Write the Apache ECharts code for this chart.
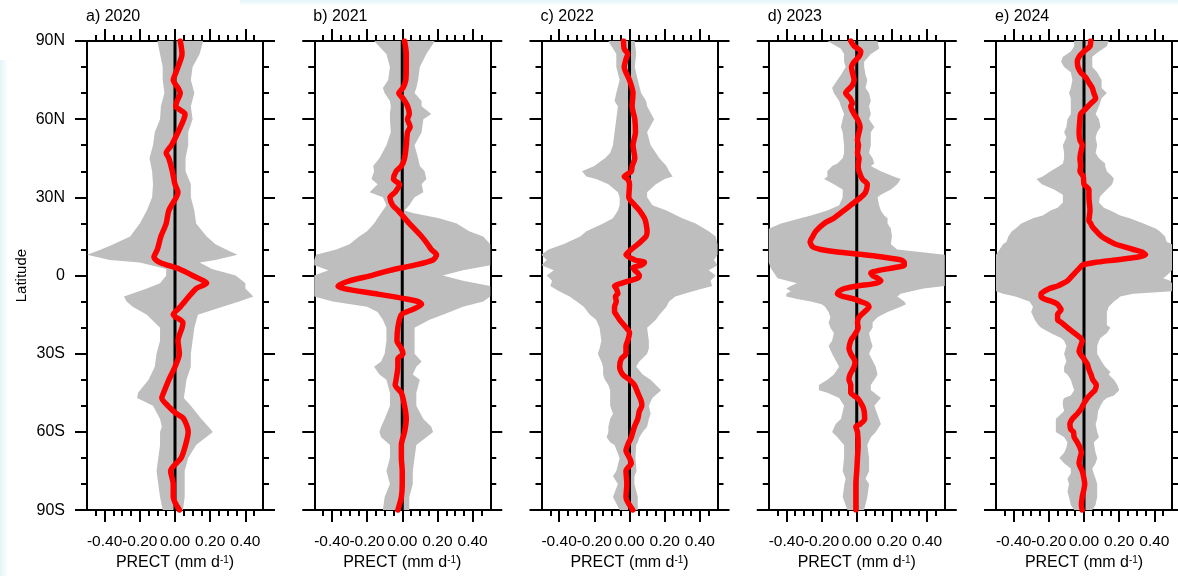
<!DOCTYPE html>
<html>
<head>
<meta charset="utf-8">
<script src="https://cdn.jsdelivr.net/npm/echarts@6/dist/echarts.min.js"></script>
<style>
  html, body { margin: 0; padding: 0; background: #fff; }
  #chart { width: 1178px; height: 576px; }
</style>
</head>
<body>
<div id="chart"></div>
<script>
// panel titles and tick labels
const panelTitles = ['a) 2020', 'b) 2021', 'c) 2022', 'd) 2023', 'e) 2024'];
const latLabels = ['90S', '60S', '30S', '0', '30N', '60N', '90N'];
const xMajorTicks = [-0.4, -0.2, 0, 0.2, 0.4];
const xMinorTicks = [-0.45, -0.4, -0.35, -0.3, -0.25, -0.2, -0.15, -0.1, -0.05, 0,
  0.05, 0.1, 0.15, 0.2, 0.25, 0.3, 0.35, 0.4, 0.45];

// 2020
const redLat2020 = [90,85,80,77,75,72,70,67,65,62,60,55,50,47,45,40,35,32,30,25,20,15,10,7,5,2.5,0,-3,-5,-10,-12,-15,-18,-20,-25,-30,-35,-40,-45,-47,-50,-53,-55,-60,-65,-70,-75,-80,-85,-90];
const red2020 = [0.03,0.04,0.017,0,-0.01,0.017,0.03,0.012,0.004,0.057,0.05,0.017,-0.02,-0.05,-0.035,-0.015,0,0.017,0.007,-0.035,-0.05,-0.08,-0.1,-0.12,-0.085,0.025,0.1,0.18,0.12,0.055,0.03,-0.01,0.045,0.04,0.017,0.025,0,-0.035,-0.065,-0.075,-0.04,0.008,0.05,0.075,0.06,0.035,-0.025,-0.01,-0.01,0.025];
const envLat2020 = [90,85,80,75,70,65,60,55,50,45,40,35,30,25,20,15,12,10,8,6,5,2.5,0,-3,-5,-8,-10,-12,-15,-20,-25,-30,-35,-40,-45,-47,-50,-55,-58,-60,-65,-70,-75,-80,-85,-90];
const lo2020 = [-0.1,-0.085,-0.07,-0.07,-0.06,-0.08,-0.085,-0.115,-0.125,-0.145,-0.13,-0.125,-0.13,-0.16,-0.2,-0.255,-0.35,-0.42,-0.5,-0.37,-0.2,-0.05,-0.05,-0.085,-0.16,-0.29,-0.275,-0.24,-0.16,-0.085,-0.085,-0.105,-0.115,-0.15,-0.21,-0.215,-0.125,-0.085,-0.075,-0.085,-0.085,-0.095,-0.105,-0.095,-0.085,-0.07];
const hi2020 = [0.16,0.14,0.1,0.09,0.11,0.09,0.1,0.075,0.075,0.06,0.06,0.09,0.09,0.11,0.12,0.18,0.23,0.29,0.355,0.23,0.14,0.21,0.345,0.4,0.4,0.445,0.365,0.27,0.13,0.11,0.1,0.09,0.09,0.065,0.055,0.05,0.09,0.15,0.19,0.215,0.12,0.075,0.055,0.055,0.055,0.045];

// 2021
const redLat2021 = [90,85,80,75,72,70,68,65,62,60,57,55,50,45,42,40,37,35,32,30,27,25,20,15,12,10,8,6,4,2,0,-2,-4,-5,-7,-9,-10,-11,-13,-15,-20,-25,-28,-30,-32,-35,-40,-42,-45,-50,-55,-60,-65,-70,-75,-80,-85,-90];
const red2021 = [0.013,0.023,0.023,0.02,0.004,-0.02,0.004,0.03,0.04,0.03,0.045,0.03,0.023,0.013,-0.005,-0.035,-0.05,-0.015,-0.04,-0.07,-0.055,-0.025,0.04,0.11,0.145,0.165,0.195,0.175,0.07,-0.07,-0.175,-0.3,-0.365,-0.33,-0.15,0.023,0.09,0.11,0.06,-0.005,-0.025,-0.03,-0.005,0.004,-0.025,-0.025,-0.035,-0.04,-0.005,0.013,0.023,0.013,-0.005,-0.005,0,0,-0.005,-0.025];
const envLat2021 = [90,85,80,75,72,70,67,65,62,60,55,50,45,42,40,37,35,32,30,27,25,24,22,20,17,15,12,10,8,6,4,2,0,-2,-4,-6,-8,-10,-12,-14,-15,-17,-20,-25,-30,-33,-35,-38,-40,-45,-50,-55,-58,-60,-62,-65,-70,-75,-80,-85,-90];
const lo2021 = [-0.16,-0.09,-0.07,-0.08,-0.11,-0.1,-0.07,-0.065,-0.07,-0.07,-0.065,-0.09,-0.13,-0.165,-0.16,-0.175,-0.14,-0.185,-0.11,-0.09,-0.11,-0.12,-0.14,-0.16,-0.2,-0.245,-0.3,-0.375,-0.49,-0.5,-0.5,-0.42,-0.5,-0.5,-0.5,-0.5,-0.5,-0.395,-0.2,-0.14,-0.13,-0.11,-0.09,-0.09,-0.1,-0.12,-0.16,-0.13,-0.09,-0.07,-0.07,-0.1,-0.12,-0.13,-0.12,-0.07,-0.07,-0.09,-0.07,-0.1,-0.11];
const hi2021 = [0.185,0.137,0.1,0.09,0.08,0.07,0.11,0.11,0.165,0.12,0.11,0.07,0.09,0.1,0.127,0.137,0.11,0.12,0.07,0.04,0.013,0.06,0.21,0.31,0.38,0.46,0.5,0.5,0.5,0.5,0.5,0.345,0.23,0.345,0.5,0.5,0.5,0.46,0.345,0.27,0.23,0.155,0.07,0.07,0.07,0.11,0.08,0.06,0.1,0.08,0.08,0.12,0.165,0.175,0.137,0.08,0.07,0.06,0.06,0.04,0.04];

// 2022
const redLat2022 = [90,87,85,83,80,75,70,65,60,55,50,45,42,40,38,37,35,30,27,25,22,20,17,15,12,10,8,6,5,4,3,2,1,0,-1,-2,-3,-4,-5,-7,-8,-10,-12,-14,-15,-17,-20,-22,-25,-27,-30,-32,-35,-38,-40,-42,-45,-48,-50,-52,-55,-58,-60,-62,-65,-67,-70,-72,-75,-80,-85,-90];
const red2022 = [-0.034,-0.03,-0.01,-0.02,-0.03,0,0.02,0.015,0.03,0.034,0.02,0.03,0.015,0.01,-0.03,-0.01,0,-0.004,0.03,0.056,0.085,0.094,0.1,0.094,0.047,0.01,-0.02,0.03,0.085,0.065,0.02,0.03,0.047,0.056,0.047,0,-0.047,-0.085,-0.075,-0.066,-0.08,-0.075,-0.085,-0.085,-0.075,-0.056,-0.019,0,-0.01,-0.02,-0.02,-0.047,-0.056,-0.038,0,0.028,0.047,0.066,0.07,0.056,0.047,0.028,0.019,0.01,-0.01,-0.02,0,0.01,-0.02,-0.015,-0.02,0.019];
const envLat2022 = [90,85,80,75,70,67,65,60,55,50,47,45,42,40,38,37,35,32,30,27,25,22,20,17,15,12,10,8,6,4,2,0,-2,-4,-6,-8,-10,-12,-15,-17,-20,-25,-28,-30,-33,-35,-38,-40,-42,-44,-47,-50,-53,-55,-58,-60,-62,-64,-65,-70,-75,-77,-80,-85,-90];
const lo2022 = [-0.12,-0.075,-0.075,-0.056,-0.075,-0.085,-0.066,-0.075,-0.085,-0.094,-0.11,-0.14,-0.2,-0.27,-0.245,-0.19,-0.12,-0.066,-0.056,-0.056,-0.066,-0.094,-0.15,-0.245,-0.28,-0.376,-0.46,-0.5,-0.47,-0.5,-0.43,-0.47,-0.44,-0.45,-0.4,-0.34,-0.3,-0.26,-0.225,-0.19,-0.17,-0.16,-0.17,-0.18,-0.16,-0.15,-0.15,-0.14,-0.12,-0.11,-0.11,-0.11,-0.094,-0.11,-0.12,-0.12,-0.13,-0.11,-0.085,-0.056,-0.075,-0.094,-0.066,-0.094,-0.056];
const hi2022 = [0.03,0.038,0.03,0.047,0.066,0.094,0.1,0.14,0.1,0.12,0.15,0.17,0.21,0.225,0.245,0.2,0.15,0.1,0.1,0.13,0.21,0.3,0.376,0.45,0.49,0.5,0.5,0.5,0.48,0.5,0.45,0.49,0.46,0.47,0.36,0.26,0.225,0.21,0.17,0.15,0.1,0.11,0.11,0.1,0.056,0.038,0.075,0.12,0.15,0.18,0.13,0.11,0.12,0.11,0.1,0.075,0.056,0.047,0.038,0.034,0.04,0.028,0.028,0.047,0.047];

// 2023
const redLat2023 = [90,88,86,84,82,80,78,75,73,72,70,68,66,65,62,60,57,55,52,50,47,45,42,40,37,35,32,30,27,25,22,20,17,15,13,11,10,9,8,7,6,5,4,3,2,1,0,-1,-2,-3,-4,-5,-6,-7,-8,-9,-10,-11,-12,-14,-16,-18,-20,-23,-25,-28,-30,-33,-35,-38,-40,-42,-45,-47,-50,-52,-55,-57,-58,-60,-65,-70,-75,-80,-85,-90];
const red2023 = [-0.034,-0.015,0.023,0.013,-0.015,-0.03,-0.025,-0.015,-0.025,-0.038,-0.063,-0.038,-0.025,-0.034,-0.015,0.004,0.019,0.013,0.004,0.01,0.004,0.013,0.008,0.013,0.032,0.06,0.05,0.023,-0.034,-0.072,-0.13,-0.185,-0.233,-0.25,-0.265,-0.25,-0.205,-0.11,0.042,0.156,0.25,0.27,0.27,0.21,0.127,0.08,0.09,0.118,0.137,0.108,0.004,-0.072,-0.1,-0.11,-0.08,-0.015,0.023,0.06,0.07,0.042,0.013,0.004,0.008,-0.015,-0.034,-0.044,-0.034,-0.01,-0.015,-0.038,-0.044,-0.034,-0.034,0.004,0.032,0.042,0.045,0.019,-0.005,0.004,0.008,0.004,0,-0.005,-0.005,-0.005];
const envLat2023 = [90,87,85,82,80,77,75,72,70,67,65,62,60,57,55,50,47,45,43,42,40,38,37,35,33,31,30,27,25,23,22,20,18,15,12,10,8,5,3,1,-1,-2,-3,-4,-5,-6,-7,-8,-9,-10,-11,-12,-14,-16,-18,-20,-22,-25,-27,-30,-35,-38,-40,-42,-44,-45,-47,-50,-55,-57,-60,-62,-65,-70,-75,-78,-80,-85,-90];
const lo2023 = [-0.167,-0.09,-0.072,-0.072,-0.063,-0.09,-0.11,-0.14,-0.13,-0.1,-0.09,-0.072,-0.08,-0.09,-0.08,-0.072,-0.072,-0.08,-0.11,-0.14,-0.167,-0.167,-0.185,-0.13,-0.08,-0.08,-0.08,-0.1,-0.167,-0.26,-0.32,-0.43,-0.5,-0.5,-0.5,-0.5,-0.5,-0.5,-0.49,-0.47,-0.45,-0.395,-0.34,-0.375,-0.4,-0.375,-0.4,-0.4,-0.34,-0.26,-0.2,-0.18,-0.16,-0.15,-0.16,-0.15,-0.13,-0.14,-0.16,-0.14,-0.1,-0.13,-0.167,-0.215,-0.215,-0.167,-0.1,-0.072,-0.09,-0.12,-0.14,-0.11,-0.072,-0.072,-0.08,-0.063,-0.07,-0.08,-0.053];
const hi2023 = [0.118,0.127,0.08,0.042,0.042,0.05,0.06,0.05,0.07,0.08,0.07,0.08,0.07,0.1,0.08,0.08,0.07,0.09,0.1,0.08,0.137,0.21,0.25,0.23,0.194,0.137,0.118,0.127,0.137,0.156,0.175,0.175,0.194,0.2,0.194,0.23,0.5,0.5,0.5,0.5,0.5,0.5,0.5,0.5,0.38,0.31,0.25,0.23,0.25,0.27,0.28,0.25,0.175,0.118,0.09,0.09,0.07,0.08,0.09,0.07,0.108,0.118,0.1,0.08,0.08,0.1,0.137,0.1,0.127,0.137,0.108,0.08,0.06,0.07,0.07,0.05,0.07,0.06,0.042];

// 2024
const redLat2024 = [90,88,86,84,82,80,78,76,74,72,70,68,66,64,62,60,55,52,50,47,45,42,40,38,35,33,30,25,21,20,19,17,15,13,12,11,10,9,8,7,6,5,4,3,2,0,-2,-3,-4,-5,-6,-7,-8,-9,-10,-11,-12,-13,-15,-17,-18,-20,-22,-24,-25,-27,-29,-32,-34,-36,-38,-40,-42,-44,-45,-47,-49,-51,-53,-55,-57,-59,-60,-62,-64,-66,-68,-70,-72,-75,-78,-80,-85,-88,-90];
const red2024 = [0.038,0.034,0,-0.028,-0.038,-0.034,-0.019,0.01,0.028,0.047,0.056,0.066,0.038,0.01,-0.019,-0.023,-0.028,-0.023,-0.01,-0.019,-0.023,-0.019,-0.023,-0.004,0,0.028,0.028,0.034,0.028,0.038,0.045,0.07,0.1,0.15,0.18,0.23,0.28,0.33,0.35,0.3,0.18,0.06,-0.01,-0.023,-0.038,-0.066,-0.094,-0.12,-0.15,-0.197,-0.225,-0.244,-0.244,-0.225,-0.18,-0.15,-0.14,-0.13,-0.15,-0.15,-0.13,-0.094,-0.056,-0.019,-0.01,-0.019,-0.028,0,0.019,0.028,0.04,0.05,0.07,0.062,0.047,0.019,0,-0.015,-0.038,-0.066,-0.08,-0.075,-0.06,-0.056,-0.038,-0.023,-0.015,-0.023,-0.028,-0.01,0,0.004,-0.01,-0.015,-0.01];
const envLat2024 = [90,88,86,84,82,80,78,75,72,70,68,65,62,60,57,55,53,50,47,45,43,42,40,38,37,35,33,31,30,28,26,25,23,22,20,18,17,15,13,12,10,8,5,2,0,-1,-2,-3,-6,-7,-8,-9,-10,-12,-14,-17,-19,-20,-22,-24,-25,-27,-30,-33,-35,-37,-38,-40,-42,-44,-46,-47,-48,-50,-52,-55,-57,-60,-62,-64,-66,-68,-70,-72,-74,-76,-78,-80,-83,-85,-88,-90];
const lo2024 = [-0.056,-0.056,-0.075,-0.12,-0.13,-0.113,-0.075,-0.066,-0.075,-0.085,-0.075,-0.075,-0.075,-0.094,-0.1,-0.113,-0.1,-0.12,-0.113,-0.113,-0.12,-0.14,-0.19,-0.235,-0.27,-0.24,-0.17,-0.12,-0.12,-0.12,-0.15,-0.19,-0.235,-0.29,-0.356,-0.39,-0.41,-0.43,-0.44,-0.46,-0.48,-0.5,-0.5,-0.5,-0.5,-0.5,-0.5,-0.5,-0.5,-0.46,-0.39,-0.35,-0.31,-0.29,-0.3,-0.28,-0.26,-0.244,-0.19,-0.13,-0.113,-0.1,-0.113,-0.1,-0.113,-0.113,-0.094,-0.075,-0.066,-0.056,-0.075,-0.113,-0.12,-0.12,-0.113,-0.16,-0.16,-0.16,-0.113,-0.094,-0.1,-0.113,-0.14,-0.113,-0.075,-0.075,-0.094,-0.085,-0.094,-0.085,-0.075,-0.056];
const hi2024 = [0.14,0.13,0.085,0.047,0.047,0.047,0.075,0.1,0.1,0.13,0.1,0.085,0.066,0.085,0.094,0.075,0.066,0.075,0.066,0.085,0.12,0.12,0.13,0.16,0.17,0.16,0.13,0.1,0.09,0.085,0.113,0.15,0.206,0.26,0.338,0.41,0.43,0.46,0.47,0.5,0.5,0.5,0.5,0.5,0.47,0.45,0.49,0.5,0.5,0.28,0.206,0.19,0.17,0.14,0.13,0.13,0.13,0.15,0.13,0.094,0.085,0.075,0.075,0.1,0.12,0.15,0.14,0.17,0.19,0.2,0.17,0.13,0.11,0.094,0.08,0.075,0.066,0.075,0.085,0.056,0.06,0.066,0.075,0.066,0.047,0.055,0.066,0.075,0.075,0.075,0.065,0.047];

const panels = [
  { redLat: redLat2020, red: red2020, envLat: envLat2020, lo: lo2020, hi: hi2020 },
  { redLat: redLat2021, red: red2021, envLat: envLat2021, lo: lo2021, hi: hi2021 },
  { redLat: redLat2022, red: red2022, envLat: envLat2022, lo: lo2022, hi: hi2022 },
  { redLat: redLat2023, red: red2023, envLat: envLat2023, lo: lo2023, hi: hi2023 },
  { redLat: redLat2024, red: red2024, envLat: envLat2024, lo: lo2024, hi: hi2024 }
];

const chart = echarts.init(document.getElementById('chart'), null, { renderer: 'canvas' });
const font = 'Liberation Sans, Arial, sans-serif';
const black = '#000';

function xAxisOf(i, pos, ticks, len, extra) {
  return Object.assign({
    type: 'value', gridIndex: i, position: pos,
    min: -0.5, max: 0.5, interval: 0.05,
    axisLine: { show: true, onZero: false, lineStyle: { color: black, width: 2 } },
    axisTick: { show: true, customValues: ticks, length: len, lineStyle: { color: black, width: 2 } },
    axisLabel: { show: false },
    splitLine: { show: false }
  }, extra || {});
}

function yAxisOf(i, pos, extra) {
  return Object.assign({
    type: 'value', gridIndex: i, position: pos,
    min: -90, max: 90, interval: 30,
    axisLine: { show: true, onZero: false, lineStyle: { color: black, width: 2 } },
    axisTick: { show: true, length: 12, lineStyle: { color: black, width: 2 } },
    minorTick: { show: true, splitNumber: 3, length: 6, lineStyle: { color: black, width: 2 } },
    axisLabel: { show: false },
    splitLine: { show: false }
  }, extra || {});
}

const grids = [], xAxes = [], yAxes = [], series = [], titles = [];

panels.forEach(function (p, i) {
  const left = 87 + 227.25 * i;
  grids.push({ left: left, top: 41, width: 176, height: 471, containLabel: false });
  titles.push({
    text: panelTitles[i], left: left - 1, top: 9, padding: 0,
    textStyle: { fontSize: 16, fontWeight: 'normal', color: black, fontFamily: font }
  });

  // bottom axis with labels (used by series), major overlay, then top pair
  xAxes.push(xAxisOf(i, 'bottom', xMinorTicks, 6, {
    axisLabel: {
      show: true, customValues: xMajorTicks, margin: 24, fontSize: 15.5, color: black, fontFamily: font,
      hideOverlap: false, showMinLabel: true, showMaxLabel: true,
      formatter: function (v) { return v.toFixed(2); }
    },
    name: 'PRECT (mm d{sup|-1})',
    nameLocation: 'middle',
    nameGap: 43,
    nameTextStyle: {
      fontSize: 16, color: black, fontFamily: font,
      rich: { sup: { fontSize: 10, verticalAlign: 'top', lineHeight: 10, fontFamily: font, color: black } }
    }
  }));
  xAxes.push(xAxisOf(i, 'bottom', xMajorTicks, 12, { axisLine: { show: false, onZero: false } }));
  xAxes.push(xAxisOf(i, 'top', xMinorTicks, 6));
  xAxes.push(xAxisOf(i, 'top', xMajorTicks, 12, { axisLine: { show: false, onZero: false } }));

  yAxes.push(yAxisOf(i, 'left', i === 0 ? {
    axisLabel: {
      show: true, margin: 22, fontSize: 16, color: black, fontFamily: font,
      formatter: function (v) { return latLabels[Math.round((v + 90) / 30)]; }
    },
    name: 'Latitude', nameLocation: 'middle', nameRotate: 90, nameGap: 58,
    nameTextStyle: { fontSize: 15, color: black, fontFamily: font }
  } : null));
  yAxes.push(yAxisOf(i, 'right'));

  const xi = 4 * i, yi = 2 * i;

  // gray envelope: lo going down, hi coming back up
  series.push({
    type: 'custom', xAxisIndex: xi, yAxisIndex: yi, silent: true, z: 1,
    data: [[0, 0]],
    renderItem: function (params, api) {
      const pts = [];
      for (let k = 0; k < p.envLat.length; k++) pts.push(api.coord([p.lo[k], p.envLat[k]]));
      for (let k = p.envLat.length - 1; k >= 0; k--) pts.push(api.coord([p.hi[k], p.envLat[k]]));
      return { type: 'polygon', shape: { points: pts }, style: { fill: '#bebebe' } };
    }
  });

  // zero line
  series.push({
    type: 'line', xAxisIndex: xi, yAxisIndex: yi, silent: true, z: 2,
    data: [[0, -90], [0, 90]], showSymbol: false,
    lineStyle: { color: black, width: 3 }
  });

  // red profile
  series.push({
    type: 'line', xAxisIndex: xi, yAxisIndex: yi, silent: true, z: 3,
    data: p.redLat.map(function (lat, k) { return [p.red[k], lat]; }),
    showSymbol: false, smooth: 0.25,
    lineStyle: { color: '#ff0000', width: 5.5, cap: 'round', join: 'round' }
  });
});

chart.setOption({
  backgroundColor: '#fff',
  animation: false,
  textStyle: { fontFamily: font },
  title: titles,
  grid: grids,
  xAxis: xAxes,
  yAxis: yAxes,
  series: series,
  graphic: [
    {
      type: 'rect', silent: true, z: -10,
      shape: { x: 240, y: 0, width: 938, height: 6 },
      style: { fill: new echarts.graphic.LinearGradient(0, 0, 0, 1, [
        { offset: 0, color: '#e2f5f8' }, { offset: 1, color: '#ffffff' }]) }
    },
    {
      type: 'rect', silent: true, z: -10,
      shape: { x: 0, y: 60, width: 8, height: 516 },
      style: { fill: new echarts.graphic.LinearGradient(0, 0, 1, 0, [
        { offset: 0, color: '#e2f5f8' }, { offset: 1, color: '#ffffff' }]) }
    }
  ]
});
</script>
</body>
</html>
